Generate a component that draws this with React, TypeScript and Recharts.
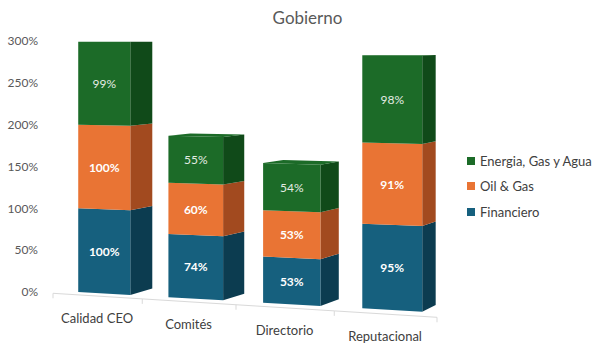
import React from "react";
import { BarChart, Bar, XAxis, YAxis, Legend } from "recharts";

const categories = ["Calidad CEO", "Comités", "Directorio", "Reputacional"];
const financiero = [100, 74, 53, 95];
const oilGas = [100, 60, 53, 91];
const energia = [99, 55, 54, 98];
const yTicks = [0, 50, 100, 150, 200, 250, 300];

const series = [
  { key: "financiero", name: "Financiero", front: "#16607e", side: "#0c3c50", bold: true },
  { key: "oilGas", name: "Oil & Gas", front: "#e97434", side: "#a24a1f", bold: true },
  { key: "energia", name: "Energia, Gas y Agua", front: "#1c6b28", side: "#104a19", bold: false },
];

const data = categories.map((name, i) => ({
  name,
  financiero: financiero[i],
  oilGas: oilGas[i],
  energia: energia[i],
}));

// plot box, in page pixels (the wrapper sits at 0,0)
const TOP = 41;
const BOTTOM = 292;
const LEFT = 53;
const RIGHT = 437;
const BAND = (RIGHT - LEFT) / categories.length;
const FONT = "Lato, 'Open Sans', sans-serif";

// rough perspective of the excel 3d column chart
const xp = (x: number) => x - 0.000244 * (x - LEFT) * (RIGHT - x);
const sFac = (x: number) => 1 + 0.00023 * (x - 79);
const depth = (x: number) => 22 - 0.0001 * (x - 130) ** 2;
const frontY = (x: number, yf: number) => TOP + (yf - TOP) * sFac(x);
const backY = (x: number, yf: number) => TOP + (yf - TOP) * sFac(x) * 0.975;
const floorY = (x: number) => BOTTOM + 1.3 + 0.0625 * (x - LEFT);

const pts = (p: number[][]) => p.map((q) => q.join(",")).join(" ");

function Box3D(props: any) {
  const { x, y, width, height, payload, s, isTop } = props;
  const xl = xp(x) + 7;
  const xr = xp(x + width) + 7;
  const yt = y;
  const yb = y + height;
  const flt = frontY(xl, yt);
  const frt = frontY(xr, yt);
  const frb = frontY(xr, yb);
  const flb = frontY(xl, yb);
  const dR = depth(xr);
  const dL = depth(xl);
  const cx = (xl + xr) / 2;
  const cy = (flt + frt + frb + flb) / 4;
  return (
    <g>
      <polygon
        points={pts([[xr, frt], [xr + dR, backY(xr, yt)], [xr + dR, backY(xr, yb)], [xr, frb]])}
        fill={s.side}
      />
      {isTop && (
        <polygon
          points={pts([[xl, flt], [xl + dL, backY(xl, yt)], [xr + dR, backY(xr, yt)], [xr, frt]])}
          fill={s.front}
        />
      )}
      <polygon points={pts([[xl, flt], [xr, frt], [xr, frb], [xl, flb]])} fill={s.front} />
      <text
        x={cx}
        y={cy}
        textAnchor="middle"
        dominantBaseline="central"
        fill={s.bold ? "#ffffff" : "#e4ece4"}
        fontFamily={FONT}
        fontSize={12}
        fontWeight={s.bold ? 700 : 400}
      >
        {payload[s.key]}%
      </text>
    </g>
  );
}

function CategoryTick(props: any) {
  const { x, payload, index } = props;
  const a = xp(x - BAND / 2);
  const b = xp(x + BAND / 2);
  const c = xp(x);
  return (
    <g>
      <line x1={a} y1={floorY(a)} x2={b} y2={floorY(b)} stroke="#d9d9d9" strokeWidth={1} />
      {index === 0 && <line x1={a} y1={floorY(a)} x2={a} y2={floorY(a) + 5} stroke="#d9d9d9" />}
      <line x1={b} y1={floorY(b)} x2={b} y2={floorY(b) + 5} stroke="#d9d9d9" />
      <text
        x={c}
        y={floorY(c) + 22}
        textAnchor="middle"
        dominantBaseline="central"
        fill="#404040"
        fontFamily={FONT}
        fontSize={13}
      >
        {payload.value}
      </text>
    </g>
  );
}

function LegendBox() {
  return (
    <div style={{ fontFamily: FONT, fontSize: 13, color: "#404040" }}>
      {[...series].reverse().map((s) => (
        <div key={s.key} style={{ display: "flex", alignItems: "center", height: 25.5 }}>
          <span style={{ width: 8, height: 8, background: s.front, marginRight: 5 }} />
          <span>{s.name}</span>
        </div>
      ))}
    </div>
  );
}

export default function App() {
  return (
    <div style={{ position: "absolute", left: 0, top: 0, width: 598, height: 344, background: "#fff" }}>
      <div
        style={{
          position: "absolute",
          left: 0,
          width: 615,
          top: 7,
          textAlign: "center",
          fontFamily: FONT,
          fontSize: 17,
          color: "#595959",
        }}
      >
        Gobierno
      </div>
      <BarChart
        width={598}
        height={344}
        data={data}
        margin={{ top: TOP, right: 598 - RIGHT, bottom: 12, left: 8 }}
      >
        <XAxis
          dataKey="name"
          height={40}
          axisLine={false}
          tickLine={false}
          interval={0}
          tick={<CategoryTick />}
        />
        <YAxis
          width={45}
          domain={[0, 300]}
          ticks={yTicks}
          tickFormatter={(v) => `${v}%`}
          axisLine={false}
          tickLine={false}
          tickSize={0}
          tickMargin={15}
          tick={{ fill: "#595959", fontSize: 12, fontFamily: FONT }}
        />
        <Legend
          layout="vertical"
          align="center"
          verticalAlign="middle"
          wrapperStyle={{ left: 467, top: 148, width: 131 }}
          content={() => <LegendBox />}
        />
        {series.map((s, i) => (
          <Bar
            key={s.key}
            dataKey={s.key}
            name={s.name}
            stackId="a"
            barSize={56}
            fill={s.front}
            isAnimationActive={false}
            shape={(p: any) => <Box3D {...p} s={s} isTop={i === series.length - 1} />}
          />
        ))}
      </BarChart>
    </div>
  );
}
